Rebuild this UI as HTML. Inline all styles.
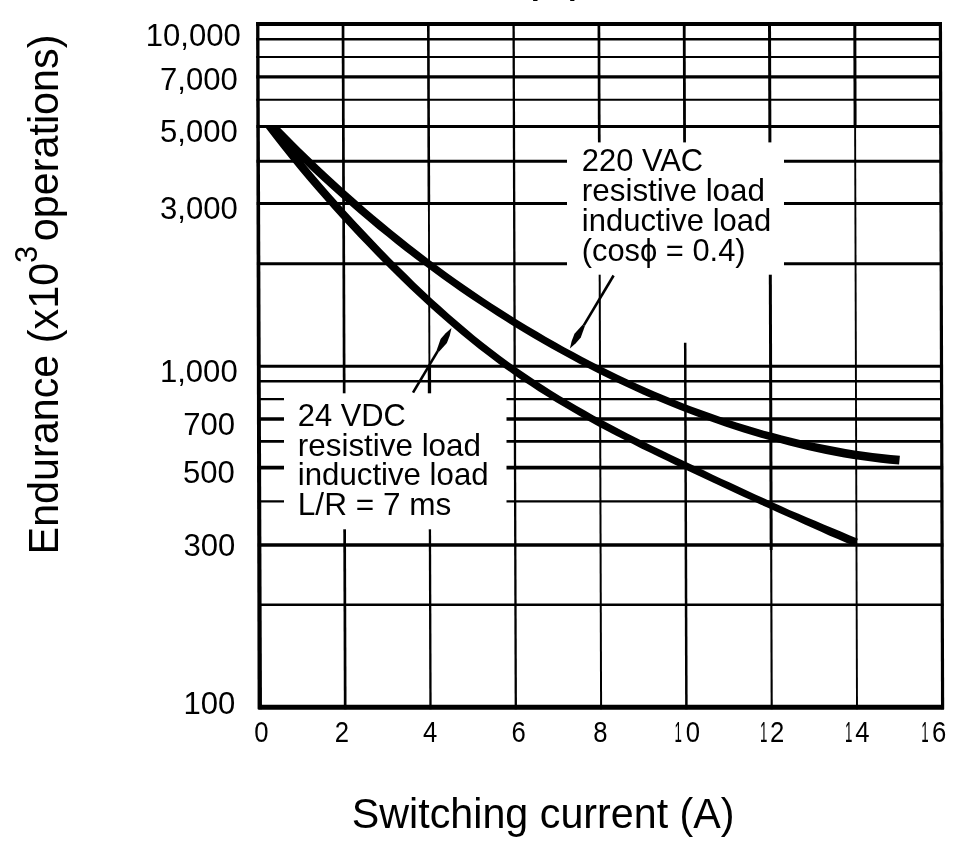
<!DOCTYPE html>
<html lang="en"><head><meta charset="utf-8"><title>Endurance chart</title>
<style>html,body{margin:0;padding:0;background:#fff}body{width:965px;height:853px;overflow:hidden}svg{display:block}text{font-family:"Liberation Sans",sans-serif;fill:#000}</style></head><body>
<svg width="965" height="853" viewBox="0 0 965 853">
<rect width="965" height="853" fill="#fff"/>
<rect x="533.1" y="0" width="4.4" height="1" fill="#000"/><rect x="570.2" y="0" width="4.2" height="1" fill="#000"/>
<g stroke="#000" fill="none" stroke-linecap="butt">
<line x1="256.1" y1="23.9" x2="941.7" y2="23.9" stroke-width="4.0"/>
<line x1="256.2" y1="39.2" x2="941.8" y2="39.2" stroke-width="2.4"/>
<line x1="256.2" y1="57.1" x2="941.8" y2="57.1" stroke-width="2.0"/>
<line x1="256.3" y1="76.9" x2="941.9" y2="76.9" stroke-width="3.2"/>
<line x1="256.3" y1="99.7" x2="941.9" y2="99.7" stroke-width="2.1"/>
<line x1="256.4" y1="126.5" x2="942.0" y2="126.5" stroke-width="3.1"/>
<line x1="256.5" y1="161.2" x2="942.1" y2="161.2" stroke-width="3.0"/>
<line x1="256.7" y1="203.6" x2="942.3" y2="203.6" stroke-width="3.0"/>
<line x1="256.9" y1="263.7" x2="942.5" y2="263.7" stroke-width="3.0"/>
<line x1="257.2" y1="366.3" x2="942.8" y2="366.3" stroke-width="3.1"/>
<line x1="257.3" y1="381.3" x2="942.9" y2="381.3" stroke-width="2.4"/>
<line x1="257.3" y1="399.2" x2="942.9" y2="399.2" stroke-width="2.2"/>
<line x1="257.4" y1="419.0" x2="943.0" y2="419.0" stroke-width="3.4"/>
<line x1="257.4" y1="441.3" x2="943.0" y2="441.3" stroke-width="2.8"/>
<line x1="257.5" y1="467.6" x2="943.1" y2="467.6" stroke-width="3.6"/>
<line x1="257.6" y1="501.4" x2="943.2" y2="501.4" stroke-width="2.3"/>
<line x1="257.8" y1="544.9" x2="943.4" y2="544.9" stroke-width="3.5"/>
<line x1="258.0" y1="604.8" x2="943.6" y2="604.8" stroke-width="2.6"/>
<line x1="258.3" y1="707.3" x2="943.9" y2="707.3" stroke-width="5.0"/>
<line x1="343.0" y1="21.9" x2="345.2" y2="709.3" stroke-width="2.7"/>
<line x1="428.3" y1="21.9" x2="428.9" y2="205.0" stroke-width="2.6"/>
<line x1="428.9" y1="205.0" x2="429.4" y2="366.0" stroke-width="1.9"/>
<line x1="429.4" y1="366.0" x2="429.5" y2="395.0" stroke-width="3.3"/>
<line x1="429.5" y1="395.0" x2="430.5" y2="709.3" stroke-width="2.3"/>
<line x1="513.6" y1="21.9" x2="515.8" y2="709.3" stroke-width="2.3"/>
<line x1="598.9" y1="21.9" x2="599.3" y2="150.0" stroke-width="2.7"/>
<line x1="599.3" y1="150.0" x2="601.1" y2="709.3" stroke-width="2.0"/>
<line x1="684.2" y1="21.9" x2="684.6" y2="150.0" stroke-width="2.8"/>
<line x1="685.2" y1="342.8" x2="686.4" y2="709.3" stroke-width="2.5"/>
<line x1="769.5" y1="21.9" x2="771.2" y2="550.0" stroke-width="3.0"/>
<line x1="771.2" y1="550.0" x2="771.7" y2="709.3" stroke-width="2.1"/>
<line x1="854.8" y1="21.9" x2="855.1" y2="125.0" stroke-width="3.0"/>
<line x1="855.1" y1="125.0" x2="857.0" y2="709.3" stroke-width="1.9"/>
<line x1="940.4" y1="21.9" x2="942.6" y2="709.3" stroke-width="3.2"/>
<polygon points="256.1,21.9 259.4,21.9 262.0,709.3 257.6,709.3" fill="#000" stroke="none"/>
</g>
<rect x="567" y="142.4" width="217" height="132.3" fill="#fff"/>
<rect x="284" y="393.3" width="222.5" height="136" fill="#fff"/>
<clipPath id="cc"><rect x="250" y="125.4" width="700" height="600"/></clipPath>
<g clip-path="url(#cc)" stroke="#000" fill="none" stroke-width="8.7" stroke-linecap="butt" stroke-linejoin="round">
<path d="M273.8 121.5 L282.9 130.8 L292.0 140.0 L301.0 148.9 L310.1 157.7 L319.2 166.4 L328.3 174.9 L337.3 183.2 L346.4 191.4 L355.5 199.5 L364.5 207.4 L373.6 215.2 L382.7 222.8 L391.7 230.3 L400.8 237.6 L409.8 244.8 L418.9 251.8 L428.0 258.8 L437.0 265.5 L446.1 272.2 L455.2 278.7 L464.2 285.1 L473.3 291.3 L482.4 297.5 L491.5 303.4 L500.6 309.3 L509.6 315.1 L518.7 320.7 L527.8 326.2 L536.9 331.6 L546.0 336.9 L555.0 342.1 L564.1 347.2 L573.2 352.1 L582.3 357.0 L591.4 361.7 L600.4 366.3 L609.5 370.8 L618.6 375.2 L627.7 379.5 L636.8 383.7 L645.8 387.8 L654.9 391.7 L664.0 395.6 L673.1 399.3 L682.2 402.9 L691.2 406.4 L700.3 409.8 L709.4 413.1 L718.5 416.3 L727.6 419.4 L736.6 422.4 L745.7 425.3 L754.8 428.0 L763.9 430.7 L773.0 433.1 L782.0 435.5 L791.1 437.8 L800.2 439.9 L809.3 441.9 L818.4 443.8 L827.4 445.6 L836.5 447.3 L845.6 448.9 L854.6 450.4 L863.7 451.7 L872.7 453.0 L881.8 454.0 L890.8 455.0 L899.9 455.8 L899.1 464.6 L889.9 463.7 L880.8 462.7 L871.6 461.6 L862.4 460.3 L853.3 458.9 L844.1 457.4 L834.9 455.7 L825.8 453.9 L816.6 452.0 L807.5 449.9 L798.3 447.8 L789.2 445.5 L780.1 443.1 L770.9 440.5 L761.8 437.9 L752.6 435.2 L743.5 432.4 L734.3 429.5 L725.2 426.4 L716.1 423.3 L706.9 420.1 L697.8 416.7 L688.6 413.3 L679.5 409.7 L670.3 406.0 L661.2 402.2 L652.1 398.4 L642.9 394.4 L633.8 390.3 L624.6 386.0 L615.5 381.7 L606.3 377.3 L597.2 372.8 L588.0 368.1 L578.9 363.4 L569.8 358.5 L560.6 353.5 L551.5 348.4 L542.3 343.2 L533.2 337.9 L524.0 332.5 L514.9 327.0 L505.8 321.3 L496.6 315.5 L487.5 309.6 L478.3 303.6 L469.2 297.4 L460.0 291.2 L450.9 284.7 L441.7 278.2 L432.6 271.6 L423.4 264.8 L414.3 257.9 L405.1 250.9 L395.9 243.7 L386.8 236.3 L377.6 228.9 L368.5 221.3 L359.3 213.5 L350.1 205.6 L341.0 197.5 L331.8 189.3 L322.7 180.9 L313.5 172.4 L304.4 163.7 L295.2 154.9 L286.1 145.9 L276.9 136.7 L267.8 127.4Z" fill="#000" stroke="none"/>
<path d="M270.8 120.3 L279.3 131.6 L287.8 142.6 L296.3 153.3 L304.7 163.7 L313.2 173.9 L321.7 183.9 L330.2 193.7 L338.7 203.3 L347.2 212.7 L355.7 222.0 L364.2 231.1 L372.7 240.1 L381.2 249.0 L389.7 257.7 L398.2 266.2 L406.7 274.6 L415.1 282.9 L423.6 291.0 L432.1 298.9 L440.6 306.6 L449.1 314.2 L457.6 321.6 L466.1 328.8 L474.6 335.9 L483.1 342.7 L491.5 349.3 L500.0 355.7 L508.5 361.9 L517.0 368.0 L525.5 373.8 L534.0 379.5 L542.5 385.1 L551.0 390.4 L559.5 395.7 L568.0 400.8 L576.5 405.8 L585.0 410.6 L593.5 415.4 L602.0 420.0 L610.5 424.6 L619.0 429.0 L627.5 433.4 L636.0 437.7 L644.5 442.0 L653.0 446.2 L661.5 450.3 L670.1 454.4 L678.6 458.5 L687.1 462.6 L695.6 466.6 L704.2 470.6 L712.7 474.7 L721.2 478.7 L729.8 482.6 L738.3 486.6 L746.8 490.5 L755.3 494.4 L763.9 498.3 L772.4 502.2 L780.9 506.0 L789.4 509.9 L798.0 513.5 L806.6 517.2 L815.2 520.8 L823.7 524.4 L832.3 528.0 L840.8 531.6 L849.3 535.2 L857.9 538.7 L854.7 546.3 L846.2 542.7 L837.7 539.0 L829.1 535.4 L820.6 531.6 L812.1 527.8 L803.6 523.9 L795.1 520.0 L786.6 516.2 L778.1 512.4 L769.5 508.5 L761.0 504.7 L752.4 500.8 L743.9 496.9 L735.3 492.9 L726.8 489.0 L718.3 485.0 L709.7 481.0 L701.2 477.0 L692.6 473.0 L684.1 469.0 L675.5 464.9 L667.0 460.8 L658.5 456.7 L649.9 452.6 L641.3 448.4 L632.8 444.1 L624.2 439.8 L615.7 435.4 L607.1 430.9 L598.5 426.4 L590.0 421.7 L581.4 416.9 L572.8 412.0 L564.3 407.0 L555.7 401.9 L547.1 396.6 L538.5 391.2 L530.0 385.6 L521.4 379.9 L512.8 374.0 L504.2 367.9 L495.6 361.6 L487.1 355.1 L478.5 348.4 L469.9 341.6 L461.3 334.5 L452.8 327.2 L444.2 319.8 L435.6 312.2 L427.0 304.4 L418.4 296.5 L409.8 288.4 L401.3 280.2 L392.7 271.8 L384.1 263.2 L375.5 254.5 L366.9 245.6 L358.4 236.7 L349.8 227.5 L341.2 218.2 L332.6 208.8 L324.1 199.1 L315.5 189.3 L306.9 179.3 L298.3 169.0 L289.8 158.5 L281.2 147.7 L272.6 136.7 L264.0 125.4Z" fill="#000" stroke="none"/>
</g>
<line x1="613.6" y1="275.5" x2="583.8" y2="325.4" stroke="#000" stroke-width="2.6"/><polygon points="569.9,348.6 571.7,340.9 574.5,333.7 582.6,324.8 584.9,326.1 580.8,337.5 575.8,343.3" fill="#000"/>
<line x1="413.0" y1="392.7" x2="437.7" y2="351.2" stroke="#000" stroke-width="2.6"/><polygon points="451.5,328.0 449.7,335.7 446.9,342.9 438.8,351.9 436.6,350.5 440.6,339.1 445.6,333.3" fill="#000"/>
<text transform="translate(240.8 45.7) scale(0.990 1)" font-size="31.4" text-anchor="end">10,000</text>
<text transform="translate(237.8 89.6) scale(0.990 1)" font-size="31.4" text-anchor="end">7,000</text>
<text transform="translate(237.8 141.8) scale(0.990 1)" font-size="31.4" text-anchor="end">5,000</text>
<text transform="translate(237.8 218.6) scale(0.990 1)" font-size="31.4" text-anchor="end">3,000</text>
<text transform="translate(237.7 381.7) scale(0.990 1)" font-size="31.4" text-anchor="end">1,000</text>
<text transform="translate(235.0 434.6) scale(0.990 1)" font-size="31.4" text-anchor="end">700</text>
<text transform="translate(234.9 482.5) scale(0.990 1)" font-size="31.4" text-anchor="end">500</text>
<text transform="translate(235.3 555.6) scale(0.990 1)" font-size="31.4" text-anchor="end">300</text>
<text transform="translate(235.3 714.3) scale(0.990 1)" font-size="31.4" text-anchor="end">100</text>
<text transform="translate(261.5 741.6) scale(0.870 1)" font-size="29.5" text-anchor="middle">0</text>
<text transform="translate(342.0 741.6) scale(0.870 1)" font-size="29.5" text-anchor="middle">2</text>
<text transform="translate(430.2 741.6) scale(0.870 1)" font-size="29.5" text-anchor="middle">4</text>
<text transform="translate(518.7 741.6) scale(0.870 1)" font-size="29.5" text-anchor="middle">6</text>
<text transform="translate(600.4 741.6) scale(0.870 1)" font-size="29.5" text-anchor="middle">8</text>
<g><text transform="translate(678.2 741.6) scale(0.450 1)" font-size="29.5" text-anchor="middle">1</text><text transform="translate(693.0 741.6) scale(0.870 1)" font-size="29.5" text-anchor="middle">0</text></g>
<g><text transform="translate(763.6 741.6) scale(0.450 1)" font-size="29.5" text-anchor="middle">1</text><text transform="translate(777.2 741.6) scale(0.870 1)" font-size="29.5" text-anchor="middle">2</text></g>
<g><text transform="translate(848.8 741.6) scale(0.450 1)" font-size="29.5" text-anchor="middle">1</text><text transform="translate(862.4 741.6) scale(0.870 1)" font-size="29.5" text-anchor="middle">4</text></g>
<g><text transform="translate(925.0 741.6) scale(0.450 1)" font-size="29.5" text-anchor="middle">1</text><text transform="translate(939.1 741.6) scale(0.870 1)" font-size="29.5" text-anchor="middle">6</text></g>
<text transform="translate(581.8 171.0) scale(0.984 1)" font-size="31.4" text-anchor="start">220 VAC</text>
<text transform="translate(581.8 200.9) scale(1.000 1)" font-size="31.4" text-anchor="start">resistive load</text>
<text transform="translate(581.8 230.9) scale(0.987 1)" font-size="31.4" text-anchor="start">inductive load</text>
<text transform="translate(581.8 260.8) scale(0.982 1)" font-size="31.4" text-anchor="start">(cosϕ = 0.4)</text>
<text transform="translate(297.8 426.1) scale(0.984 1)" font-size="31.4" text-anchor="start">24 VDC</text>
<text transform="translate(297.8 455.7) scale(1.000 1)" font-size="31.4" text-anchor="start">resistive load</text>
<text transform="translate(297.8 485.2) scale(0.994 1)" font-size="31.4" text-anchor="start">inductive load</text>
<text transform="translate(297.8 514.8) scale(1.006 1)" font-size="31.4" text-anchor="start">L/R = 7 ms</text>
<text transform="translate(351.8 828.4) scale(0.987 1)" font-size="41.8" text-anchor="start">Switching current (A)</text>
<text transform="translate(58.2 554.4) rotate(-90) scale(0.974 1)" font-size="42.4">Endurance (x10<tspan font-size="31.5" dy="-20.8">3</tspan><tspan dy="20.8" dx="-7"> operations)</tspan></text>
</svg></body></html>
